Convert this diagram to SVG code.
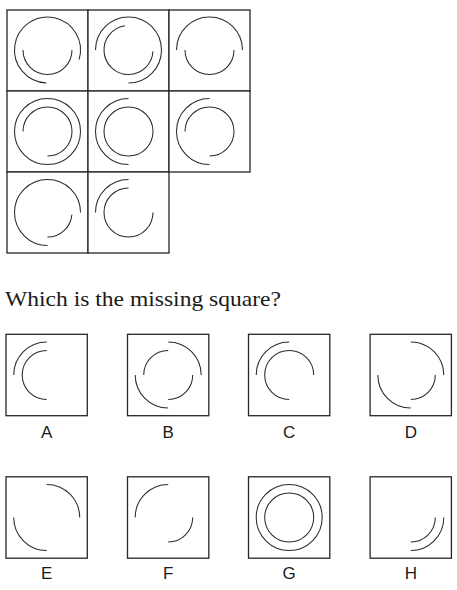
<svg xmlns="http://www.w3.org/2000/svg" width="457" height="590" viewBox="0 0 457 590">
<style>
.box{fill:#fff;stroke:#262626;stroke-width:1.3}
.arc{fill:none;stroke:#2a2a2a;stroke-width:1.05}
.lbl{font-family:"Liberation Sans",Arial,sans-serif;font-size:17px;fill:#1a1a1a;text-anchor:middle}
.q{font-family:"Liberation Serif","Times New Roman",serif;font-size:22px;fill:#1a1a1a}
</style>
<rect width="457" height="590" fill="#fff"/>
<g id="grid">
<g id="cell-1-1">
<rect class="box" x="7" y="10" width="81" height="81"/>
<path class="arc" d="M46.35 82.98 A33 33 0 1 1 79.06 59.65"/>
<path class="arc" d="M72 50 A24.5 24.5 0 0 1 23 50"/>
</g>
<g id="cell-1-2">
<rect class="box" x="88" y="10" width="81" height="81"/>
<path class="arc" d="M95.5 50 A33 33 0 1 1 128.5 83"/>
<path class="arc" d="M152.97 51.28 A24.5 24.5 0 1 1 125.09 25.74"/>
</g>
<g id="cell-1-3">
<rect class="box" x="169" y="10" width="81" height="81"/>
<path class="arc" d="M176.5 50 A33 33 0 0 1 242.5 50"/>
<path class="arc" d="M234 50 A24.5 24.5 0 0 1 185 50"/>
</g>
<g id="cell-2-1">
<rect class="box" x="7" y="91" width="81" height="81"/>
<circle class="arc" cx="47.5" cy="131.5" r="33"/>
<path class="arc" d="M23 131.5 A24.5 24.5 0 1 1 47.5 156"/>
</g>
<g id="cell-2-2">
<rect class="box" x="88" y="91" width="81" height="81"/>
<path class="arc" d="M128.5 164.5 A33 33 0 0 1 128.5 98.5"/>
<circle class="arc" cx="128.5" cy="131.5" r="24.5"/>
</g>
<g id="cell-2-3">
<rect class="box" x="169" y="91" width="81" height="81"/>
<path class="arc" d="M209.5 164.5 A33 33 0 0 1 209.5 98.5"/>
<path class="arc" d="M185 131.5 A24.5 24.5 0 1 1 209.5 156"/>
</g>
<g id="cell-3-1">
<rect class="box" x="7" y="172" width="81" height="81"/>
<path class="arc" d="M47.5 245.5 A33 33 0 1 1 80.5 212.5"/>
<path class="arc" d="M71.9 214.6 A24.5 24.5 0 0 1 47.5 237"/>
</g>
<g id="cell-3-2">
<rect class="box" x="88" y="172" width="81" height="81"/>
<path class="arc" d="M95.5 212.5 A33 33 0 0 1 128.5 179.5"/>
<path class="arc" d="M153 212.5 A24.5 24.5 0 1 1 128.5 188"/>
</g>
</g>
<text id="question" class="q" x="5" y="306" textLength="276" lengthAdjust="spacingAndGlyphs">Which is the missing square?</text>
<g id="option-A">
<rect class="box" x="6" y="334.3" width="81.3" height="81.4"/>
<path class="arc" d="M13.7 375 A33 33 0 0 1 46.7 342"/>
<path class="arc" d="M46.7 399.5 A24.5 24.5 0 0 1 46.7 350.5"/>
<text class="lbl" x="46.7" y="438">A</text>
</g>
<g id="option-B">
<rect class="box" x="127.5" y="334.3" width="81.3" height="81.4"/>
<path class="arc" d="M168.2 342 A33 33 0 0 1 201.2 375"/>
<path class="arc" d="M168.2 408 A33 33 0 0 1 135.2 375"/>
<path class="arc" d="M143.7 375 A24.5 24.5 0 0 1 168.2 350.5"/>
<path class="arc" d="M192.7 375 A24.5 24.5 0 0 1 168.2 399.5"/>
<text class="lbl" x="168.2" y="438">B</text>
</g>
<g id="option-C">
<rect class="box" x="248.5" y="334.3" width="81.3" height="81.4"/>
<path class="arc" d="M256.2 375 A33 33 0 0 1 289.2 342"/>
<path class="arc" d="M289.2 399.5 A24.5 24.5 0 1 1 313.7 375"/>
<text class="lbl" x="289.2" y="438">C</text>
</g>
<g id="option-D">
<rect class="box" x="370.1" y="334.3" width="81.3" height="81.4"/>
<path class="arc" d="M410.8 342 A33 33 0 0 1 443.8 375"/>
<path class="arc" d="M410.8 408 A33 33 0 0 1 377.8 375"/>
<path class="arc" d="M435.3 375 A24.5 24.5 0 0 1 410.8 399.5"/>
<text class="lbl" x="410.8" y="438">D</text>
</g>
<g id="option-E">
<rect class="box" x="6" y="476.8" width="81.3" height="81.4"/>
<path class="arc" d="M46.7 484.5 A33 33 0 0 1 79.7 517.5"/>
<path class="arc" d="M46.7 550.5 A33 33 0 0 1 13.7 517.5"/>
<text class="lbl" x="46.7" y="578.5">E</text>
</g>
<g id="option-F">
<rect class="box" x="127.5" y="476.8" width="81.3" height="81.4"/>
<path class="arc" d="M135.2 517.5 A33 33 0 0 1 168.2 484.5"/>
<path class="arc" d="M192.7 517.5 A24.5 24.5 0 0 1 168.2 542"/>
<text class="lbl" x="168.2" y="578.5">F</text>
</g>
<g id="option-G">
<rect class="box" x="248.5" y="476.8" width="81.3" height="81.4"/>
<circle class="arc" cx="289.2" cy="517.5" r="33"/>
<circle class="arc" cx="289.2" cy="517.5" r="24.5"/>
<text class="lbl" x="289.2" y="578.5">G</text>
</g>
<g id="option-H">
<rect class="box" x="370.1" y="476.8" width="81.3" height="81.4"/>
<path class="arc" d="M443.8 517.5 A33 33 0 0 1 410.8 550.5"/>
<path class="arc" d="M435.3 517.5 A24.5 24.5 0 0 1 410.8 542"/>
<text class="lbl" x="410.8" y="578.5">H</text>
</g>
<g id="connectors"/>
</svg>
